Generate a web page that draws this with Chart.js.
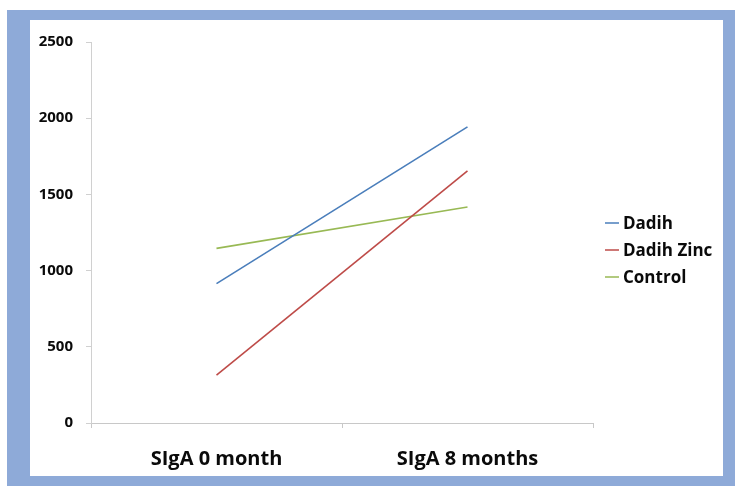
<!DOCTYPE html>
<html>
<head>
<meta charset="utf-8">
<script src="https://cdn.jsdelivr.net/npm/chart.js@4.4.1/dist/chart.umd.min.js"></script>
<style>
   body { margin: 0; background: #ffffff; }
   #frame { position: absolute; left: 7px; top: 10px; width: 728px; height: 476px; background: #8eaad8; }
   #wrap { position: absolute; left: 30px; top: 20px; width: 693px; height: 456px; background: #ffffff; }
</style>
</head>
<body>
<div id="frame"></div>
<div id="wrap"><canvas id="sigaChart" width="693" height="456"></canvas></div>
<script>
var categories = ["SIgA 0 month", "SIgA 8 months"];
var seriesNames = ["Dadih", "Dadih Zinc", "Control"];
var dadih = [915, 1943];
var dadihZinc = [314, 1655];
var control = [1146, 1417];
var yTicks = [0, 500, 1000, 1500, 2000, 2500];

var colors = ["#4a7ebb", "#be4b48", "#98b954"];

// legend drawn by hand, to the right of the plot
var sideLegend = {
   id: "sideLegend",
   afterDraw: function (chart) {
      var ctx = chart.ctx;
      var area = chart.chartArea;
      var x = area.right + 12;
      var y = 203;
      ctx.save();
      ctx.font = "bold 17px 'Open Sans'";
      ctx.textBaseline = "middle";
      chart.data.datasets.forEach(function (ds, i) {
         var yy = y + i * 27;
         ctx.strokeStyle = ds.borderColor;
         ctx.lineWidth = 1.5;
         ctx.beginPath();
         ctx.moveTo(x, yy);
         ctx.lineTo(x + 14, yy);
         ctx.stroke();
         ctx.fillStyle = "#0a0a0a";
         ctx.fillText(ds.label, x + 18, yy + 1);
      });
      ctx.restore();
   },
};

var ctx = document.getElementById("sigaChart").getContext("2d");
var chart = new Chart(ctx, {
   type: "line",
   data: {
      labels: categories,
      datasets: [
         { label: seriesNames[0], data: dadih, borderColor: colors[0], backgroundColor: colors[0] },
         { label: seriesNames[1], data: dadihZinc, borderColor: colors[1], backgroundColor: colors[1] },
         { label: seriesNames[2], data: control, borderColor: colors[2], backgroundColor: colors[2] },
      ],
   },
   options: {
      responsive: false,
      animation: false,
      layout: { padding: { top: 13, right: 130, left: 0, bottom: 0 } },
      elements: {
         line: { borderWidth: 1.6, tension: 0 },
         point: { radius: 0, hoverRadius: 0 },
      },
      plugins: {
         legend: { display: false },
         tooltip: { enabled: false },
      },
      scales: {
         x: {
            offset: true,
            grid: { offset: true, drawOnChartArea: false, tickLength: 5, color: "#c8c8c8" },
            border: { color: "#c8c8c8" },
            ticks: { color: "#0a0a0a", font: { family: "'Open Sans'", size: 20, weight: "bold" }, padding: 19, maxRotation: 0 },
            afterFit: function (scale) { scale.height = 53; },
         },
         y: {
            min: 0,
            max: 2500,
            afterBuildTicks: function (scale) {
               scale.ticks = yTicks.map(function (v) { return { value: v }; });
            },
            grid: { drawOnChartArea: false, tickLength: 5, color: "#d0d0d0" },
            border: { color: "#d0d0d0" },
            ticks: {
               color: "#0a0a0a",
               font: { family: "'Open Sans'", size: 15, weight: "bold" },
               padding: 13,
               callback: function (value) { return String(value); },
            },
            afterFit: function (scale) { scale.width = 61; },
         },
      },
   },
   plugins: [sideLegend],
});
</script>
</body>
</html>
